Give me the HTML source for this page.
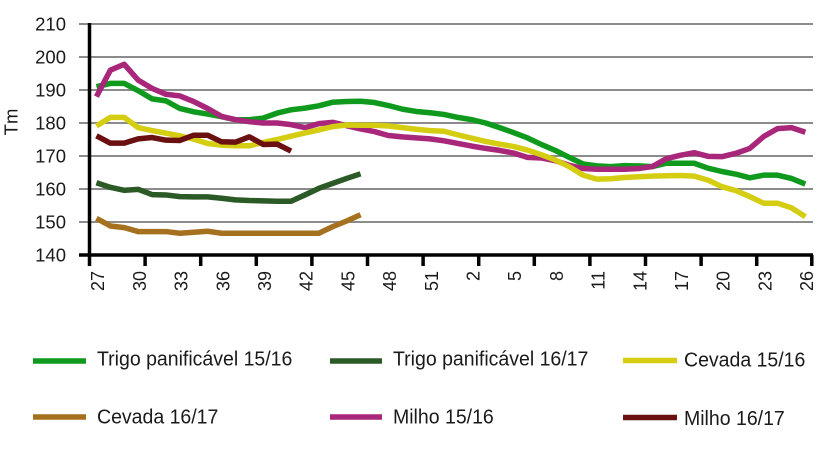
<!DOCTYPE html>
<html><head><meta charset="utf-8"><style>
html,body{margin:0;padding:0;background:#fff;}
svg{display:block;}
text{font-family:"Liberation Sans",Arial,sans-serif;fill:#1a1a1a;}
</style></head><body>
<svg width="820" height="462" viewBox="0 0 820 462" xmlns="http://www.w3.org/2000/svg">
<rect width="820" height="462" fill="#fff"/>
<!-- gridlines -->
<g stroke="#8c8c8c" stroke-width="2">
<line x1="79" y1="24" x2="813" y2="24"/>
<line x1="79" y1="57" x2="813" y2="57"/>
<line x1="79" y1="90" x2="813" y2="90"/>
<line x1="79" y1="123" x2="813" y2="123"/>
<line x1="79" y1="156" x2="813" y2="156"/>
<line x1="79" y1="189" x2="813" y2="189"/>
<line x1="79" y1="222" x2="813" y2="222"/>
</g>
<!-- y labels -->
<g font-size="18.5" text-anchor="end">
<text x="66" y="30.5">210</text>
<text x="66" y="63.5">200</text>
<text x="66" y="96.5">190</text>
<text x="66" y="129.5">180</text>
<text x="66" y="162.5">170</text>
<text x="66" y="195.5">160</text>
<text x="66" y="228.5">150</text>
<text x="66" y="261.5">140</text>
</g>
<text transform="translate(17.5,122) rotate(-90)" font-size="18.5" text-anchor="middle">Tm</text>
<!-- series -->
<g transform="matrix(13.9 0 0 -3.3 96.45 717)" fill="none" stroke-width="5.5" stroke-linejoin="round" stroke-linecap="butt">
<polyline vector-effect="non-scaling-stroke" stroke="#0f9a1e" points="0,191 1,192 2,192 3,189.8 4,187.3 5,186.7 6,184.4 7,183.4 8,182.7 9,181.9 10,181 11,181 12,181.5 13,183 14,184 15,184.5 16,185.2 17,186.3 18,186.5 19,186.6 20,186.2 21,185.3 22,184.2 23,183.5 24,183.1 25,182.6 26,181.7 27,181 28,180 29,178.6 30,177.1 31,175.5 32,173.5 33,171.7 34,169.6 35,167.6 36,167 37,166.8 38,167.1 39,167 40,166.8 41,167.8 42,167.8 43,167.8 44,166.3 45,165.3 46,164.5 47,163.4 48,164.2 49,164.2 50,163.2 51,161.5"/>
<polyline vector-effect="non-scaling-stroke" stroke="#2c5a26" points="0,161.9 1,160.5 2,159.6 3,159.9 4,158.3 5,158.2 6,157.7 7,157.6 8,157.6 9,157.2 10,156.7 11,156.5 12,156.4 13,156.3 14,156.3 15,158.2 16,160.2 17,161.7 18,163.2 19,164.6"/>
<polyline vector-effect="non-scaling-stroke" stroke="#a8277b" points="0,188 1,196 2,197.8 3,193 4,190.5 5,188.7 6,188.2 7,186.5 8,184.4 9,182 10,181 11,180.4 12,180 13,180 14,179.5 15,178.6 16,179.8 17,180.2 18,179.2 19,178.2 20,177.4 21,176.2 22,175.8 23,175.5 24,175.2 25,174.6 26,173.8 27,173 28,172.3 29,171.7 30,170.9 31,169.6 32,169.4 33,168.6 34,167.2 35,166.2 36,166 37,166 38,166 39,166.2 40,166.8 41,169.2 42,170.2 43,171 44,169.9 45,169.8 46,170.8 47,172.3 48,175.9 49,178.3 50,178.6 51,177.2"/>
<polyline vector-effect="non-scaling-stroke" stroke="#d5cd12" points="0,179.1 1,181.7 2,181.7 3,178.6 4,177.7 5,176.9 6,176.1 7,175.1 8,173.8 9,173.3 10,173.1 11,173.1 12,174.1 13,175 14,176 15,177 16,177.9 17,178.9 18,179.4 19,179.3 20,179.3 21,179.1 22,178.6 23,178.1 24,177.7 25,177.5 26,176.4 27,175.4 28,174.4 29,173.6 30,172.9 31,171.8 32,170.4 33,168.8 34,166.8 35,164.2 36,163 37,163.1 38,163.5 39,163.7 40,163.9 41,164 42,164.1 43,163.9 44,162.7 45,160.7 46,159.5 47,157.7 48,155.7 49,155.7 50,154.3 51,151.6"/>
<polyline vector-effect="non-scaling-stroke" stroke="#a6711f" points="0,151.1 1,148.8 2,148.3 3,147.1 4,147.1 5,147.1 6,146.6 7,146.9 8,147.2 9,146.6 10,146.6 11,146.6 12,146.6 13,146.6 14,146.6 15,146.6 16,146.6 17,148.6 18,150.3 19,152.2"/>
<polyline vector-effect="non-scaling-stroke" stroke="#6a1010" points="0,176.1 1,173.9 2,173.9 3,175.2 4,175.6 5,174.8 6,174.7 7,176.3 8,176.3 9,174.3 10,174.2 11,175.8 12,173.5 13,173.6 14,171.5"/>
</g>
<!-- axes -->
<g stroke="#000" stroke-width="3.5">
<line x1="89.5" y1="23" x2="89.5" y2="266"/>
<line x1="79" y1="255" x2="813" y2="255"/>
<line x1="145.1" y1="255" x2="145.1" y2="266"/>
<line x1="200.7" y1="255" x2="200.7" y2="266"/>
<line x1="256.3" y1="255" x2="256.3" y2="266"/>
<line x1="311.9" y1="255" x2="311.9" y2="266"/>
<line x1="367.5" y1="255" x2="367.5" y2="266"/>
<line x1="423.1" y1="255" x2="423.1" y2="266"/>
<line x1="478.7" y1="255" x2="478.7" y2="266"/>
<line x1="534.3" y1="255" x2="534.3" y2="266"/>
<line x1="589.9" y1="255" x2="589.9" y2="266"/>
<line x1="645.5" y1="255" x2="645.5" y2="266"/>
<line x1="701.1" y1="255" x2="701.1" y2="266"/>
<line x1="756.7" y1="255" x2="756.7" y2="266"/>
<line x1="811.8" y1="255" x2="811.8" y2="266"/>
</g>
<!-- x labels -->
<g font-size="18" text-anchor="end">
<text transform="translate(104.2,271) rotate(-90)">27</text>
<text transform="translate(145.9,271) rotate(-90)">30</text>
<text transform="translate(187.6,271) rotate(-90)">33</text>
<text transform="translate(229.3,271) rotate(-90)">36</text>
<text transform="translate(271,271) rotate(-90)">39</text>
<text transform="translate(312.7,271) rotate(-90)">42</text>
<text transform="translate(354.4,271) rotate(-90)">45</text>
<text transform="translate(396.1,271) rotate(-90)">48</text>
<text transform="translate(437.8,271) rotate(-90)">51</text>
<text transform="translate(479.5,271) rotate(-90)">2</text>
<text transform="translate(521.2,271) rotate(-90)">5</text>
<text transform="translate(562.9,271) rotate(-90)">8</text>
<text transform="translate(604.6,271) rotate(-90)">11</text>
<text transform="translate(646.3,271) rotate(-90)">14</text>
<text transform="translate(688,271) rotate(-90)">17</text>
<text transform="translate(729.7,271) rotate(-90)">20</text>
<text transform="translate(771.4,271) rotate(-90)">23</text>
<text transform="translate(813.1,271) rotate(-90)">26</text>
</g>
<!-- legend -->
<g stroke-width="5.5">
<line x1="33" y1="361" x2="86" y2="361" stroke="#0f9a1e"/>
<line x1="330" y1="361" x2="382" y2="361" stroke="#2c5a26"/>
<line x1="623" y1="360.5" x2="677" y2="360.5" stroke="#d5cd12"/>
<line x1="33" y1="417" x2="86" y2="417" stroke="#a6711f"/>
<line x1="330" y1="417" x2="382" y2="417" stroke="#a8277b"/>
<line x1="623" y1="417.5" x2="677" y2="417.5" stroke="#6a1010"/>
</g>
<g font-size="19.5" fill="#111">
<text transform="translate(97,365.5) scale(1,1.06)">Trigo panificável 15/16</text>
<text transform="translate(393,365.5) scale(1,1.06)">Trigo panificável 16/17</text>
<text transform="translate(684,366.5) scale(1,1.06)">Cevada 15/16</text>
<text transform="translate(97,423.5) scale(1,1.06)">Cevada 16/17</text>
<text transform="translate(393,423.5) scale(1,1.06)">Milho 15/16</text>
<text transform="translate(684,425) scale(1,1.06)">Milho 16/17</text>
</g>
</svg>
</body></html>
